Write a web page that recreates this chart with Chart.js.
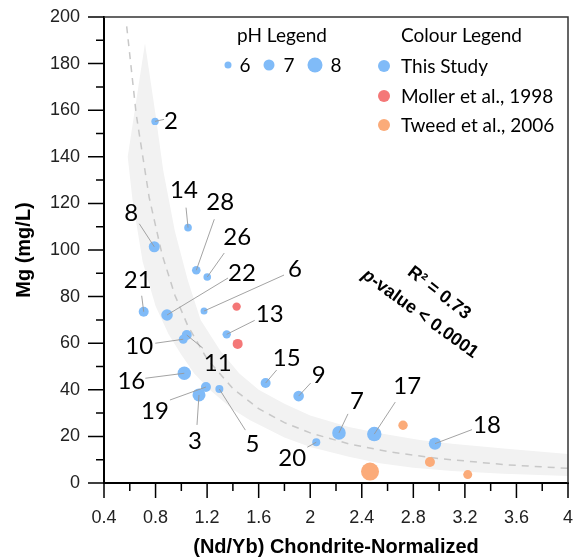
<!DOCTYPE html>
<html>
<head>
<meta charset="utf-8">
<script src="https://cdn.jsdelivr.net/npm/chart.js@4.4.0/dist/chart.umd.min.js"></script>
<style>
  html, body { margin: 0; padding: 0; background: #fff; }
  #wrap { width: 580px; height: 559px; }
</style>
</head>
<body>
<div id="wrap"><canvas id="c" width="580" height="559"></canvas></div>
<script>
// axis ticks
const xTicks = [0.4, 0.8, 1.2, 1.6, 2, 2.4, 2.8, 3.2, 3.6, 4];
const yTicks = [0, 20, 40, 60, 80, 100, 120, 140, 160, 180, 200];

// This Study samples (id, Nd/Yb, Mg, pH)
const studyIds = ['2', '14', '8', '28', '26', '21', '22', '6', '13', '10', '11', '16', '19', '3', '5', '15', '9', '7', '17', '20', '18'];
const studyX = [0.796, 1.052, 0.790, 1.116, 1.201, 0.708, 0.889, 1.176, 1.352, 1.015, 1.042, 1.023, 1.191, 1.137, 1.295, 1.654, 1.910, 2.223, 2.497, 2.047, 2.968];
const studyY = [155.2, 109.6, 101.4, 91.3, 88.4, 73.5, 72.1, 73.8, 63.8, 61.7, 63.5, 47.1, 41.2, 37.8, 40.3, 42.9, 37.3, 21.5, 21.0, 17.5, 16.9];
const studyPH = [6.1, 6.15, 7.0, 6.4, 6.15, 6.75, 7.15, 6.0, 6.35, 6.5, 6.75, 7.6, 6.75, 7.5, 6.25, 6.75, 6.9, 7.65, 7.85, 6.25, 7.35];

// Moller et al., 1998
const mollerX = [1.429, 1.437];
const mollerY = [75.7, 59.7];
const mollerPH = [6.35, 6.75];

// Tweed et al., 2006
const tweedX = [2.464, 2.720, 2.929, 3.222];
const tweedY = [4.9, 24.8, 9.0, 3.6];
const tweedPH = [8.75, 6.6, 6.75, 6.5];

// fitted curve
const fitX = [0.576, 0.65, 0.75, 0.85, 0.95, 1.05, 1.2, 1.4, 1.6, 1.8, 2.0, 2.3, 2.6, 3.0, 3.5, 4.0];
const fitY = [196, 158.2, 122.7, 98.2, 80.6, 67.5, 53.2, 40.5, 31.9, 25.9, 21.5, 16.8, 13.5, 10.5, 7.9, 6.3];

// confidence band edges
const bandLowX = [0.584, 0.62, 0.70, 0.80, 0.90, 1.00, 1.10, 1.22, 1.40, 1.53, 1.8, 2.0, 2.3, 2.54, 2.8, 3.1, 3.5, 4.0];
const bandLowY = [140, 122, 95, 76, 64, 55, 47, 40, 31.5, 27, 19.5, 15.5, 11.3, 8.5, 6.5, 5.2, 4, 3];
const bandUpX = [0.718, 0.80, 0.86, 0.95, 1.05, 1.15, 1.3, 1.45, 1.6, 1.8, 2.0, 2.3, 2.54, 2.85, 3.1, 3.5, 4.0];
const bandUpY = [188.7, 158, 134, 108, 87, 70, 57, 47, 40, 34, 29, 24, 21.3, 18.5, 16.8, 14.8, 12.5];

// label layout: [line end dx, line end dy, text dx, text dy] relative to the point
const labelLayout = [
  [9, -2, 16, -1], [-2, -20, -4, -38], [-15, -23, -23, -34], [18, -51, 24, -69],
  [17, -24, 30, -41], [-2, -16, -6, -32], [61, -37, 75, -43], [80, -36, 91, -43],
  [28, -14, 43, -21], [-28, 4, -44, 6], [16, 13, 31, 27], [-39, 5, -53, 7],
  [-36, 13, -51, 23], [-2, 30, -4, 45], [26, 41, 33, 54], [11, -13, 21, -26],
  [12, -13, 20, -22], [9, -19, 18, -33], [21, -32, 33, -49], [-9, 5, -24, 15],
  [37, -14, 52, -19],
];

const BLUE = '#80bbf8';
const RED = '#f47777';
const ORANGE = '#fbab79';
const LABEL_FONT = 'Lato, "Open Sans", sans-serif';
const BOLD = 'bold 18px "Liberation Sans", Arial, sans-serif';
const BOLD_IT = 'bold italic 18px "Liberation Sans", Arial, sans-serif';

const pts = (xs, ys) => xs.map((v, i) => ({ x: v, y: ys[i] }));
const phRadius = ph => 3.5 + (ph - 6) * 2;

const bandData = pts(bandLowX, bandLowY).concat(pts(bandUpX, bandUpY).reverse());

const noPad = s => { s.paddingTop = 0; s.paddingBottom = 0; s.paddingLeft = 0; s.paddingRight = 0; };

const decor = {
  id: 'decor',
  afterDatasetsDraw(chart) {
    const { ctx, scales: { x, y }, chartArea: a } = chart;
    ctx.save();

    // frame top / right
    ctx.strokeStyle = '#333';
    ctx.lineWidth = 1.5;
    ctx.beginPath();
    ctx.moveTo(a.left, a.top);
    ctx.lineTo(a.right, a.top);
    ctx.lineTo(a.right, a.bottom);
    ctx.stroke();

    // tick marks (major + minor)
    ctx.strokeStyle = '#000';
    ctx.lineWidth = 1.5;
    ctx.beginPath();
    xTicks.forEach((v, i) => {
      const p = x.getPixelForValue(v);
      ctx.moveTo(p, a.bottom); ctx.lineTo(p, a.bottom + 15);
      if (i < xTicks.length - 1) {
        const m = x.getPixelForValue((v + xTicks[i + 1]) / 2);
        ctx.moveTo(m, a.bottom); ctx.lineTo(m, a.bottom + 8);
      }
    });
    yTicks.forEach((v, i) => {
      const p = y.getPixelForValue(v);
      ctx.moveTo(a.left, p); ctx.lineTo(a.left - 16, p);
      if (i < yTicks.length - 1) {
        const m = y.getPixelForValue((v + yTicks[i + 1]) / 2);
        ctx.moveTo(a.left, m); ctx.lineTo(a.left - 8, m);
      }
    });
    ctx.stroke();

    // sample labels with leader lines
    ctx.font = '24px ' + LABEL_FONT;
    ctx.textAlign = 'center';
    ctx.textBaseline = 'alphabetic';
    studyIds.forEach((id, i) => {
      const px = x.getPixelForValue(studyX[i]);
      const py = y.getPixelForValue(studyY[i]);
      const [lx, ly, tx, ty] = labelLayout[i];
      ctx.strokeStyle = '#999';
      ctx.lineWidth = 0.9;
      ctx.beginPath();
      ctx.moveTo(px, py);
      ctx.lineTo(px + lx, py + ly);
      ctx.stroke();
      ctx.fillStyle = '#000';
      ctx.fillText(id, px + tx, py + ty + 8.6);
    });

    // axis titles
    ctx.fillStyle = '#000';
    ctx.font = 'bold 20px "Liberation Sans", Arial, sans-serif';
    ctx.textBaseline = 'middle';
    ctx.fillText('(Nd/Yb) Chondrite-Normalized', (a.left + a.right) / 2, 547);
    ctx.save();
    ctx.translate(24, (a.top + a.bottom) / 2);
    ctx.rotate(-Math.PI / 2);
    ctx.fillText('Mg (mg/L)', 0, 0);
    ctx.restore();

    // pH legend
    ctx.font = '19px ' + LABEL_FONT;
    ctx.fillText('pH Legend', 282, 36);
    [[228, 6, '6', 245], [269, 7, '7', 289], [315, 8, '8', 336]].forEach(([cx, ph, t, txp]) => {
      ctx.fillStyle = BLUE;
      ctx.beginPath();
      ctx.arc(cx, 65, phRadius(ph), 0, Math.PI * 2);
      ctx.fill();
      ctx.fillStyle = '#000';
      ctx.fillText(t, txp, 66);
    });

    // colour legend
    ctx.textAlign = 'left';
    ctx.fillText('Colour Legend', 401, 36);
    [[BLUE, 'This Study', 66], [RED, 'Moller et al., 1998', 96], [ORANGE, 'Tweed et al., 2006', 125]].forEach(([c, t, yy]) => {
      ctx.fillStyle = c;
      ctx.beginPath();
      ctx.arc(384, yy, 6, 0, Math.PI * 2);
      ctx.fill();
      ctx.fillStyle = '#000';
      ctx.fillText(t, 401, yy + 1);
    });

    // fit statistics
    ctx.textAlign = 'center';
    ctx.save();
    ctx.translate(439, 293);
    ctx.rotate(38 * Math.PI / 180);
    ctx.font = BOLD;
    ctx.fillText('R\u00B2 = 0.73', 0, 0);
    ctx.restore();
    ctx.save();
    ctx.translate(420, 314);
    ctx.rotate(36 * Math.PI / 180);
    ctx.font = BOLD_IT;
    const pw = ctx.measureText('p').width;
    ctx.font = BOLD;
    const rest = '-value < 0.0001';
    const rw = ctx.measureText(rest).width;
    ctx.textAlign = 'left';
    ctx.fillText(rest, -(pw + rw) / 2 + pw, 0);
    ctx.font = BOLD_IT;
    ctx.fillText('p', -(pw + rw) / 2, 0);
    ctx.restore();

    ctx.restore();
  },
};

const tickFont = { family: '"Liberation Sans", Arial, sans-serif', size: 18 };

new Chart(document.getElementById('c'), {
  type: 'scatter',
  data: {
    datasets: [
      {
        label: 'This Study',
        data: pts(studyX, studyY),
        backgroundColor: BLUE,
        borderWidth: 0,
        pointRadius: ctx => phRadius(studyPH[ctx.dataIndex]),
        order: 1,
      },
      {
        label: 'Moller et al., 1998',
        data: pts(mollerX, mollerY),
        backgroundColor: RED,
        borderWidth: 0,
        pointRadius: ctx => phRadius(mollerPH[ctx.dataIndex]),
        order: 1,
      },
      {
        label: 'Tweed et al., 2006',
        data: pts(tweedX, tweedY),
        backgroundColor: ORANGE,
        borderWidth: 0,
        pointRadius: ctx => phRadius(tweedPH[ctx.dataIndex]),
        order: 1,
      },
      {
        type: 'line',
        label: 'fit',
        data: pts(fitX, fitY),
        borderColor: '#c8c8c8',
        borderWidth: 1.5,
        borderDash: [7, 6],
        pointRadius: 0,
        fill: false,
        order: 4,
      },
      {
        type: 'line',
        label: 'band',
        data: bandData,
        borderWidth: 0,
        borderColor: 'rgba(0,0,0,0)',
        backgroundColor: '#f2f2f2',
        pointRadius: 0,
        fill: 'shape',
        order: 5,
      },
    ],
  },
  options: {
    responsive: false,
    animation: false,
    layout: { padding: { top: 17, right: 12, left: 0, bottom: 0 } },
    plugins: { legend: { display: false }, tooltip: { enabled: false } },
    scales: {
      x: {
        type: 'linear',
        min: 0.4,
        max: 4,
        afterBuildTicks: s => { s.ticks = xTicks.map(v => ({ value: v })); },
        afterFit: s => { s.height = 76; noPad(s); },
        grid: { display: false, drawTicks: false },
        border: { display: true, color: '#000', width: 2 },
        ticks: { padding: 24, color: '#222', font: tickFont, maxRotation: 0, autoSkip: false, callback: v => String(v) },
      },
      y: {
        type: 'linear',
        min: 0,
        max: 200,
        afterBuildTicks: s => { s.ticks = yTicks.map(v => ({ value: v })); },
        afterFit: s => { s.width = 104; noPad(s); },
        grid: { display: false, drawTicks: false },
        border: { display: true, color: '#000', width: 2 },
        ticks: { padding: 24, color: '#222', font: tickFont, autoSkip: false, callback: v => String(v) },
      },
    },
  },
  plugins: [decor],
});
</script>
</body>
</html>
